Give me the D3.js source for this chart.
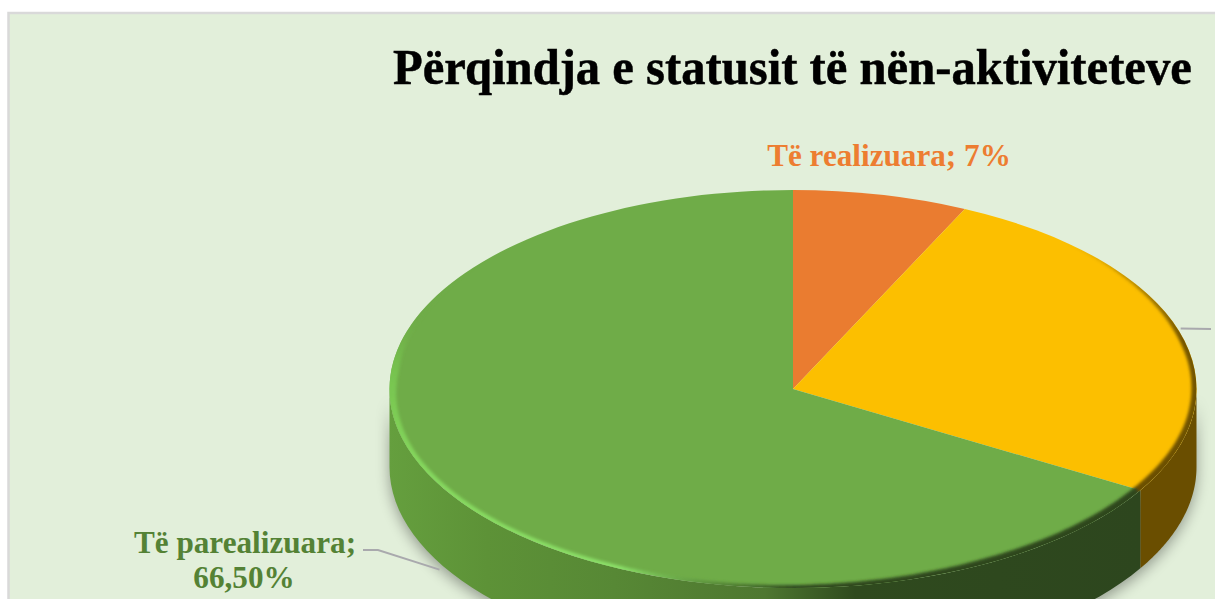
<!DOCTYPE html>
<html>
<head>
<meta charset="utf-8">
<script src="https://cdn.jsdelivr.net/npm/d3@7"></script>
<style>
  html, body { margin: 0; padding: 0; background: #fff; overflow: hidden; }
  text { font-family: "Liberation Serif", serif; font-weight: bold; }
</style>
</head>
<body>
<div id="chart"></div>
<script>
// Data for the pie
const categories = ["Të realizuara", "Të pjesshme", "Të parealizuara"];
const values = [7, 26.5, 66.5];
const topColors = ["#ea7c30", "#fcbf00", "#6fac48"];
const sideColors = ["#75400f", "#6a4e00", "url(#greenSide)"];
const title = "Përqindja e statusit të nën-aktiviteteve";

const width = 1215, height = 599;
const cx = 793, cy = 389, rx = 403.5, ry = 199, depth = 78;

const svg = d3.select("#chart").append("svg")
    .attr("width", width)
    .attr("height", height)
    .style("display", "block");

const defs = svg.append("defs");
const blur = (id, s) => defs.append("filter").attr("id", id)
    .attr("filterUnits", "userSpaceOnUse")
    .attr("x", 0).attr("y", 0).attr("width", width).attr("height", height + 100)
  .append("feGaussianBlur").attr("stdDeviation", s);
blur("shadowBlur", 7);
blur("rimBlur", 1.5);

// side of the green slice goes dark towards the right
const grad = defs.append("linearGradient").attr("id", "greenSide")
    .attr("gradientUnits", "userSpaceOnUse")
    .attr("x1", 389).attr("x2", 1141).attr("y1", 0).attr("y2", 0);
[[0, "#659f3e"], [0.13, "#5d9237"], [0.3, "#578835"], [0.5, "#4e7730"], [0.62, "#2f4a1e"], [1, "#2d461e"]]
  .forEach(d => grad.append("stop").attr("offset", d[0]).attr("stop-color", d[1]));

defs.append("clipPath").attr("id", "topClip")
  .append("ellipse").attr("cx", cx).attr("cy", cy).attr("rx", rx).attr("ry", ry);

// panel
svg.append("rect")
    .attr("x", 8.5).attr("y", 13)
    .attr("width", width).attr("height", height)
    .attr("fill", "#e2efda")
    .attr("stroke", "#d9d9d9")
    .attr("stroke-width", 2.5);

const slices = d3.pie().sort(null)(values);

// angle is clockwise from the top, as in d3.pie
const px = a => cx + rx * Math.sin(a);
const py = a => cy - ry * Math.cos(a);
const sampled = (a0, a1) => d3.range(0, 61).map(i => a0 + (a1 - a0) * i / 60);

const sidePath = (a0, a1) => {
  const top = sampled(a0, a1).map(a => [px(a), py(a)]);
  const bottom = sampled(a1, a0).map(a => [px(a), py(a) + depth]);
  return d3.line()(top.concat(bottom)) + "Z";
};

// soft shadow under the cylinder
svg.append("path")
    .attr("d", sidePath(Math.PI / 2, Math.PI * 1.5))
    .attr("transform", "translate(0,5)")
    .attr("fill", "#000")
    .attr("opacity", 0.34)
    .attr("filter", "url(#shadowBlur)");

// side walls, only the part that faces the viewer
svg.append("g").selectAll("path")
  .data(slices.filter(d => d.endAngle > Math.PI / 2 && d.startAngle < Math.PI * 1.5))
  .join("path")
    .attr("d", d => sidePath(Math.max(d.startAngle, Math.PI / 2), Math.min(d.endAngle, Math.PI * 1.5)))
    .attr("fill", d => sideColors[d.index]);

// top of the pie: circular arcs squashed into an ellipse
const arc = d3.arc().innerRadius(0).outerRadius(rx);
svg.append("g")
    .attr("transform", `translate(${cx},${cy}) scale(1,${ry / rx})`)
  .selectAll("path")
  .data(slices)
  .join("path")
    .attr("d", arc)
    .attr("fill", d => topColors[d.index]);

// bevel on the rim, drawn in short pieces so colour and width fade round the edge
const yellowEnd = slices[1].endAngle * 180 / Math.PI;
const rimAngles = [40, 75, yellowEnd - 0.5, yellowEnd + 0.5, 150, 178, 188, 205, 250, 275, 290, 310];
const rimColor = d3.scaleLinear().domain(rimAngles)
    .range(["#6a4e00", "#6a4e00", "#6a4e00", "#2d461e", "#2d461e", "#2d461e", "#4d7a30", "#8be068", "#84d65c", "#78c650", "#6fac48", "#6fac48"]);
const rimWidth = d3.scaleLinear().domain(rimAngles)
    .range([0, 9, 12, 12, 11, 6, 5, 6, 8, 15, 8, 0]);
const rimOpacity = d3.scaleLinear().domain(rimAngles)
    .range([0, 0.9, 1, 1, 1, 1, 0.9, 1, 1, 0.85, 0.5, 0]);

svg.append("g").attr("clip-path", "url(#topClip)")
  .append("g").attr("filter", "url(#rimBlur)")
  .selectAll("path")
  .data(d3.range(40, 310, 1))
  .join("path")
    .attr("d", deg => {
      const a0 = deg * Math.PI / 180, a1 = (deg + 1.2) * Math.PI / 180;
      return d3.line()([[px(a0), py(a0)], [px(a1), py(a1)]]);
    })
    .attr("fill", "none")
    .attr("stroke", rimColor)
    .attr("stroke-width", rimWidth)
    .attr("stroke-opacity", rimOpacity);

// leader lines start from the middle of their slice
const mid = d => (d.startAngle + d.endAngle) / 2;
const leader = d3.line();
svg.append("path")
    .attr("d", leader([[px(mid(slices[1])) + 2, py(mid(slices[1])) - 2], [1211, 329]]))
    .attr("fill", "none").attr("stroke", "#a9a9ad").attr("stroke-width", 2);
svg.append("path")
    .attr("d", leader([[363, 550], [378, 550], [px(mid(slices[2])) - 3, py(mid(slices[2])) + depth + 4]]))
    .attr("fill", "none").attr("stroke", "#a9a9ad").attr("stroke-width", 2);

// texts
// the title is stretched to its measured width instead of using textLength
const titleText = svg.append("text")
    .attr("font-size", 51)
    .attr("fill", "#000")
    .attr("stroke", "#000")
    .attr("stroke-width", 0.5)
    .text(title);
const titleScale = 799 / titleText.node().getComputedTextLength();
titleText.attr("transform", `translate(393,84) scale(${titleScale},1)`);

svg.append("text")
    .attr("x", 889).attr("y", 166)
    .attr("text-anchor", "middle")
    .attr("font-size", 31.2)
    .attr("fill", "#ed7d31")
    .text(`${categories[0]}; ${values[0]}%`);

const greenLabel = svg.append("text")
    .attr("text-anchor", "middle")
    .attr("font-size", 31.2)
    .attr("fill", "#548235");
greenLabel.append("tspan").attr("x", 245).attr("y", 553).text(`${categories[2]};`);
greenLabel.append("tspan").attr("x", 244).attr("y", 588).text(`${d3.format(".2f")(values[2]).replace(".", ",")}%`);
</script>
</body>
</html>
